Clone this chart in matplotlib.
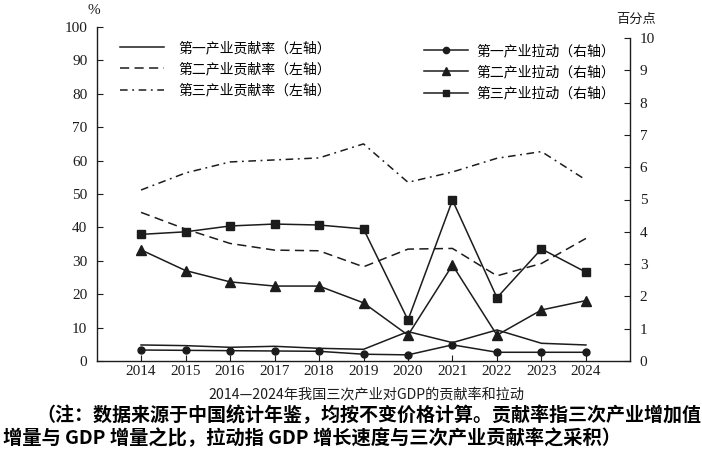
import matplotlib
matplotlib.use("Agg")
import matplotlib.pyplot as plt
from matplotlib.lines import Line2D

years = [2014, 2015, 2016, 2017, 2018, 2019, 2020, 2021, 2022, 2023, 2024]

# 贡献率（左轴，%）
primary_rate = [4.8, 4.6, 4.1, 4.4, 3.8, 3.5, 8.8, 5.5, 9.3, 5.3, 4.8]
secondary_rate = [44.5, 39.5, 35.2, 33.2, 33.0, 28.2, 33.5, 33.7, 25.5, 29.2, 36.7]
tertiary_rate = [51.2, 56.3, 59.6, 60.2, 60.8, 65.0, 53.5, 56.6, 60.7, 62.7, 54.2]

# 拉动（右轴，百分点）
primary_pull = [0.34, 0.33, 0.32, 0.31, 0.30, 0.21, 0.19, 0.50, 0.27, 0.27, 0.27]
secondary_pull = [3.44, 2.80, 2.45, 2.32, 2.32, 1.80, 0.80, 2.97, 0.80, 1.58, 1.87]
tertiary_pull = [3.92, 4.00, 4.18, 4.24, 4.21, 4.09, 1.27, 4.98, 1.96, 3.47, 2.75]

rate_labels = ["第一产业贡献率（左轴）", "第二产业贡献率（左轴）", "第三产业贡献率（左轴）"]
pull_labels = ["第一产业拉动（右轴）", "第二产业拉动（右轴）", "第三产业拉动（右轴）"]

title = "2014—2024年我国三次产业对GDP的贡献率和拉动"
note1 = "（注：数据来源于中国统计年鉴，均按不变价格计算。贡献率指三次产业增加值"
note2 = "增量与 GDP 增量之比，拉动指 GDP 增长速度与三次产业贡献率之采积）"

CJK = ["Noto Sans CJK SC", "DejaVu Sans"]
plt.rcParams["font.family"] = ["Liberation Serif", "Noto Sans CJK SC"]
INK = "#1c1c1c"

W, H = 702, 451
fig = plt.figure(figsize=(W / 100, H / 100), dpi=100)
fig.patch.set_facecolor("white")

# axes box in pixels: x 97..630, y 27..361 (from top)
ax = fig.add_axes([97 / W, (H - 361) / H, (630 - 97) / W, (361 - 27) / H])
ax2 = ax.twinx()

lw = 1.1
dash_style = (0, (6, 3.5))
dashdot_style = (0, (5, 3, 1.2, 3))

ax.plot(years, primary_rate, color=INK, lw=lw, linestyle="-")
ax.plot(years, secondary_rate, color=INK, lw=lw, linestyle=dash_style)
ax.plot(years, tertiary_rate, color=INK, lw=lw, linestyle=dashdot_style)

ax2.plot(years, primary_pull, color=INK, lw=lw, marker="o", ms=5)
ax2.plot(years, secondary_pull, color=INK, lw=lw, marker="^", ms=6.5)
ax2.plot(years, tertiary_pull, color=INK, lw=lw, marker="s", ms=6)

ax.set_xlim(2013.01, 2024.99)
ax.set_ylim(0, 100)
ax2.set_ylim(0, 10 * (361 - 27) / (361 - 38))

ax.set_xticks(years)
ax.set_yticks(range(0, 101, 10))
ax2.set_yticks(range(0, 11))

for a in (ax, ax2):
    a.spines["top"].set_visible(False)
    for s in a.spines.values():
        s.set_color(INK)
        s.set_linewidth(1.0)
ax.spines["right"].set_visible(False)
ax.spines["left"].set_bounds(0, 100)
ax2.spines["left"].set_visible(False)
ax2.spines["bottom"].set_visible(False)
ax2.spines["right"].set_bounds(0, 10)

ax.tick_params(axis="y", direction="in", length=4, pad=7, labelsize=11, colors=INK)
ax.tick_params(axis="x", direction="in", length=4, pad=3, labelsize=11, colors=INK)
ax2.tick_params(axis="y", direction="in", length=4, pad=7, labelsize=11, colors=INK)

fig.text(94 / W, 1 - 10 / H, "%", ha="center", va="center", fontsize=11, color=INK)
fig.text(636 / W, 1 - 19 / H, "百分点", ha="center", va="center", fontsize=9.5,
         family=CJK, color=INK)

rate_handles = [
    Line2D([], [], color=INK, lw=lw, linestyle="-"),
    Line2D([], [], color=INK, lw=lw, linestyle=dash_style),
    Line2D([], [], color=INK, lw=lw, linestyle=dashdot_style),
]
pull_handles = [
    Line2D([], [], color=INK, lw=lw, marker="o", ms=4.5),
    Line2D([], [], color=INK, lw=lw, marker="^", ms=5.5),
    Line2D([], [], color=INK, lw=lw, marker="s", ms=5),
]
leg_kw = dict(loc="upper left", bbox_transform=fig.transFigure, frameon=False,
              borderpad=0, borderaxespad=0, handlelength=3.2,
              labelspacing=0.53, prop={"family": CJK, "size": 10})
fig.legend(rate_handles, rate_labels, bbox_to_anchor=(120 / W, 1 - 41 / H),
           handletextpad=1.0, **leg_kw)
fig.legend(pull_handles, pull_labels, bbox_to_anchor=(424 / W, 1 - 44 / H),
           handletextpad=0.6, **leg_kw)

fig.text(366 / W, 1 - 394 / H, title, ha="center", va="center", fontsize=10.2,
         family=CJK, color=INK)
fig.text(36 / W, 1 - 415 / H, note1, ha="left", va="center", fontsize=13.7,
         family=CJK, fontweight="bold", color="black")
fig.text(3 / W, 1 - 438 / H, note2, ha="left", va="center", fontsize=13.9,
         family=CJK, fontweight="bold", color="black")

fig.savefig("out.png", dpi=100)
